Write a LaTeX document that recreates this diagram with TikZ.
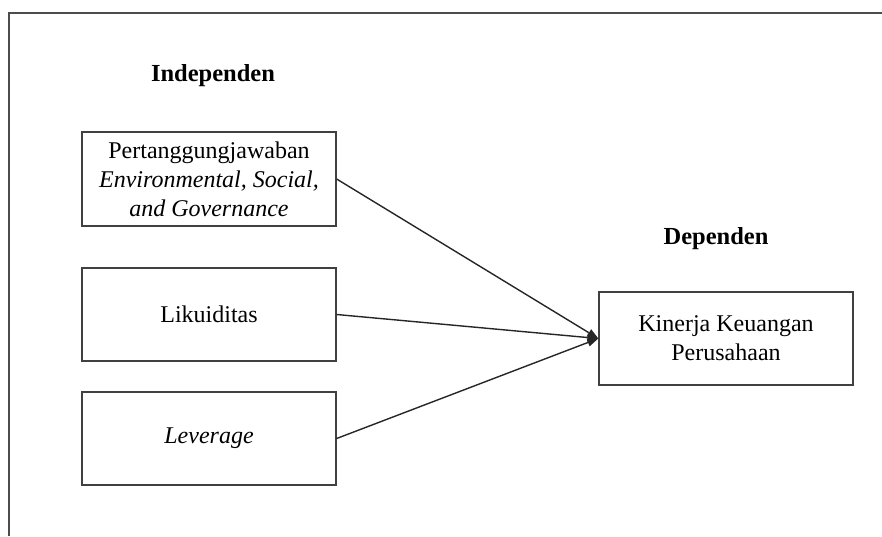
\documentclass[tikz,border=0pt]{standalone}
\usepackage{fontspec}
\setmainfont{Liberation Serif}
\usetikzlibrary{arrows.meta}
\begin{document}
\begin{tikzpicture}[x=1pt,y=-1pt,
  varbox/.style={draw=black!75,line width=1.3pt,minimum width=254pt,minimum height=93pt,inner sep=0pt,align=center,font=\fontsize{24}{29}\selectfont},
  heading/.style={font=\fontsize{24.5}{29}\selectfont\bfseries},
  conn/.style={draw=black!85,line width=1.4pt,-{Triangle[length=11pt,width=8pt]}}]
\useasboundingbox (0,0) rectangle (882,536);
\draw[black!70,line width=2pt] (9,536) -- (9,13) -- (882,13);
\node[heading] (hi) at (213,76) {Independen};
\node[heading] (hd) at (716,239) {Dependen};
\node[varbox,minimum height=94pt] (b1) at (209,179) {Pertanggungjawaban\\\textit{Environmental, Social,}\\\textit{and Governance}};
\node[varbox] (b2) at (209,314.5) {Likuiditas};
\node[varbox] (b3) at (209,438.5) {\textit{Leverage}};
\node[varbox] (b4) at (726,338.5) {Kinerja Keuangan\\Perusahaan};
\draw[conn] (b1.east) -- (b4.west);
\draw[conn] (b2.east) -- (b4.west);
\draw[conn] (b3.east) -- (b4.west);
\end{tikzpicture}
\end{document}
